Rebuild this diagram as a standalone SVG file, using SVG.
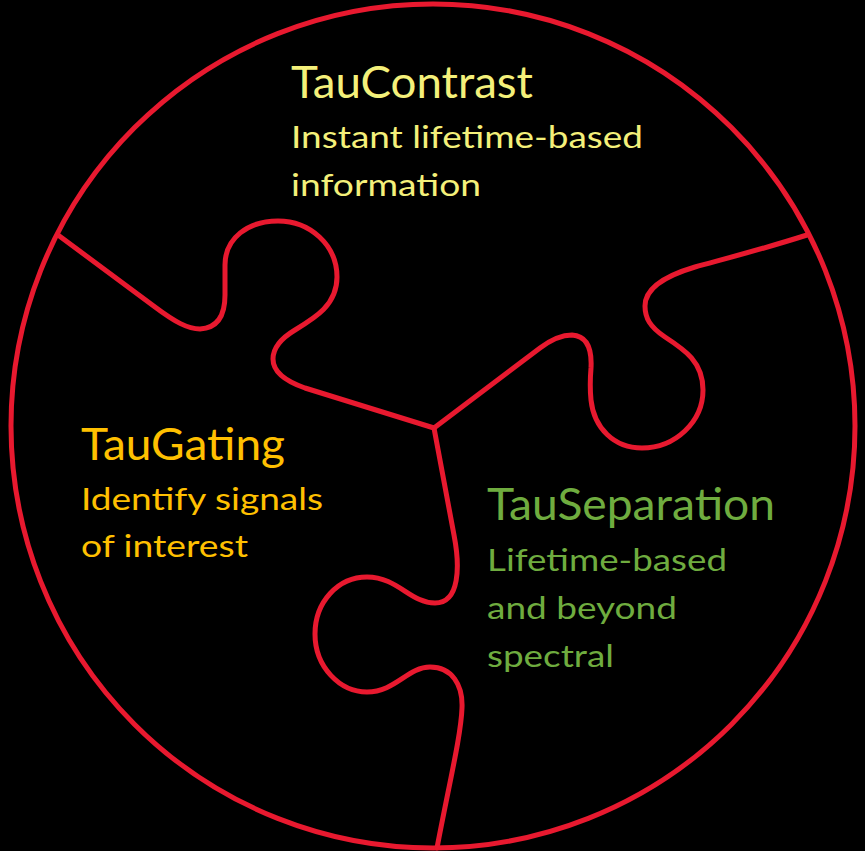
<svg xmlns="http://www.w3.org/2000/svg" width="865" height="851" viewBox="0 0 865 851">
<style>
.edge{fill:none;stroke:#E8192F;stroke-width:5;stroke-linecap:round;stroke-linejoin:round}
.t{font-family:Lato,"Open Sans","Liberation Sans",sans-serif;font-size:45px}
.s{font-family:Lato,"Open Sans","Liberation Sans",sans-serif;font-size:31px}
.y{fill:#F4F07A}.o{fill:#FFC000}.g{fill:#6FAC3F}
</style>
<rect width="865" height="851" fill="#000"/>
<g id="connectors">
<circle class="edge" cx="433" cy="426" r="422"/>
<path class="edge" d="M58,235 L155,307 C175,322 188,329 200,329 C218,328 225,315 225,295 L225,265 C225,238 248,221 278,221 C310,221 337,245 337,277 C337,305 315,318 295,330 C280,339 273,348 273,359 C273,372 285,381 305,388 L434,428"/>
<path class="edge" d="M434,428 L540,348 C552,339 562,335 572,335 C588,336 592,350 591,368 C590,380 590,390 591,400 C594,428 614,448 642,448 C675,448 703,422 703,390 C703,362 685,350 665,337 C650,327 645,318 645,306 C645,287 668,275 695,267 C720,260 760,250 807,235"/>
<path class="edge" d="M434,428 L454,535 C460,566 460,603 435,603 C410,603 398,577 367,577 C338,577 315,602 315,634 C315,667 340,692 367,692 C395,692 408,667 430,667 C452,667 463,685 462,708 C461,735 450,780 437,848"/>
</g>
<g id="taucontrast">
<text class="t y" x="291" y="98" textLength="242" lengthAdjust="spacingAndGlyphs">TauContrast</text>
<text class="s y" x="291" y="148" textLength="352" lengthAdjust="spacingAndGlyphs">Instant lifetime-based</text>
<text class="s y" x="291" y="196" textLength="190" lengthAdjust="spacingAndGlyphs">information</text>
</g>
<g id="taugating">
<text class="t o" x="81" y="460" textLength="204" lengthAdjust="spacingAndGlyphs">TauGating</text>
<text class="s o" x="81" y="510" textLength="242" lengthAdjust="spacingAndGlyphs">Identify signals</text>
<text class="s o" x="81" y="557" textLength="167" lengthAdjust="spacingAndGlyphs">of interest</text>
</g>
<g id="tauseparation">
<text class="t g" x="487" y="520" textLength="288" lengthAdjust="spacingAndGlyphs">TauSeparation</text>
<text class="s g" x="487" y="571" textLength="240" lengthAdjust="spacingAndGlyphs">Lifetime-based</text>
<text class="s g" x="487" y="619" textLength="190" lengthAdjust="spacingAndGlyphs">and beyond</text>
<text class="s g" x="487" y="667" textLength="127" lengthAdjust="spacingAndGlyphs">spectral</text>
</g>
</svg>
